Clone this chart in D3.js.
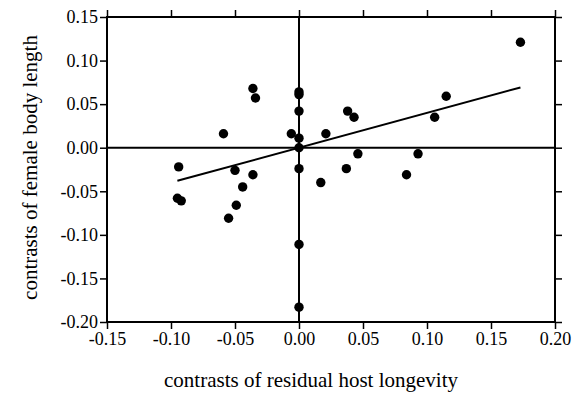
<!DOCTYPE html>
<html><head><meta charset="utf-8">
<script src="https://cdn.jsdelivr.net/npm/d3@7/dist/d3.min.js"></script>
<style>body{margin:0;background:#fff}svg{display:block}</style>
</head><body>
<svg id="c" width="581" height="398"></svg>
<script>
const xValues = [-0.036,-0.034,-0.059,0,0,0,-0.006,0,0,0.173,0.115,0.106,0.038,0.043,0.021,
                 -0.094,-0.095,-0.092,-0.050,-0.036,-0.044,-0.049,-0.055,0,0,0,0.017,0.037,0.046,0.084,0.093];
const yValues = [0.068,0.057,0.016,0.064,0.061,0.042,0.016,0.011,0.000,0.121,0.059,0.035,0.042,0.035,0.016,
                 -0.022,-0.058,-0.061,-0.026,-0.031,-0.045,-0.066,-0.081,-0.024,-0.111,-0.183,-0.040,-0.024,-0.007,-0.031,-0.007];
const xTicks = [-0.15,-0.10,-0.05,0.00,0.05,0.10,0.15,0.20];
const yTicks = [0.15,0.10,0.05,0.00,-0.05,-0.10,-0.15,-0.20];
const fitSlope = [0.40];
const fitRange = [-0.095,0.173];
const xTitle = "contrasts of residual host longevity";
const yTitle = "contrasts of female body length";

const svg = d3.select("#c");
const L=107,R=555,T=17,B=322;
const x = d3.scaleLinear().domain([-0.15,0.20]).range([L,R]);
const y = d3.scaleLinear().domain([-0.20,0.15]).range([B,T]);
const minorX = d3.range(-0.15,0.2001,0.025);
const minorY = d3.range(-0.20,0.1501,0.025);
const fmt = v => (v < 0 ? "-" : "") + Math.abs(v).toFixed(2);
const font = "Liberation Serif, Times New Roman, serif";

function axis(gen, pos, transform, ticks, minor, labels){
  const g = svg.append("g").attr("transform", transform);
  g.call(gen(pos).tickValues(minor).tickSize(4).tickFormat(""));
  g.call(gen(pos).tickValues(ticks).tickSize(7).tickFormat(labels?fmt:""));
  g.selectAll(".domain").remove();
  g.selectAll("line").attr("stroke","#000").attr("stroke-width",1.5);
  g.selectAll("text").attr("font-family",font).attr("font-size",18).attr("fill","#000");
  return g;
}
const gb = axis(d3.axisBottom, x, `translate(0,${B})`, xTicks, minorX, true);
gb.selectAll("text").attr("dy","0.85em").attr("y",8);
axis(d3.axisTop, x, `translate(0,${T})`, xTicks, minorX, false);
const gl = axis(d3.axisLeft, y, `translate(${L},0)`, yTicks, minorY, true);
gl.selectAll("text").attr("x",-9);
axis(d3.axisRight, y, `translate(${R},0)`, yTicks, minorY, false);

// frame
svg.append("rect").attr("x",L).attr("y",T).attr("width",R-L).attr("height",B-T)
  .attr("fill","none").attr("stroke","#000").attr("stroke-width",2);
// zero lines
svg.append("line").attr("x1",L).attr("x2",R).attr("y1",y(0)).attr("y2",y(0)).attr("stroke","#000").attr("stroke-width",2);
svg.append("line").attr("x1",x(0)).attr("x2",x(0)).attr("y1",T).attr("y2",B).attr("stroke","#000").attr("stroke-width",2);

// fit line
svg.append("line").attr("x1",x(fitRange[0])).attr("y1",y(fitRange[0]*fitSlope[0]))
  .attr("x2",x(fitRange[1])).attr("y2",y(fitRange[1]*fitSlope[0]))
  .attr("stroke","#000").attr("stroke-width",2);

// points
svg.append("g").selectAll("circle").data(xValues.map((v,i)=>[v,yValues[i]])).join("circle")
  .attr("cx",d=>x(d[0])).attr("cy",d=>y(d[1])).attr("r",4.7).attr("fill","#000");

// titles
svg.append("text").attr("x",(L+R)/2 - 20).attr("y",387).attr("text-anchor","middle")
  .attr("font-family",font).attr("font-size",21).text(xTitle);
svg.append("text").attr("transform",`translate(37,${(T+B)/2 - 2}) rotate(-90)`).attr("text-anchor","middle")
  .attr("font-family",font).attr("font-size",21).text(yTitle);
</script>
</body></html>
